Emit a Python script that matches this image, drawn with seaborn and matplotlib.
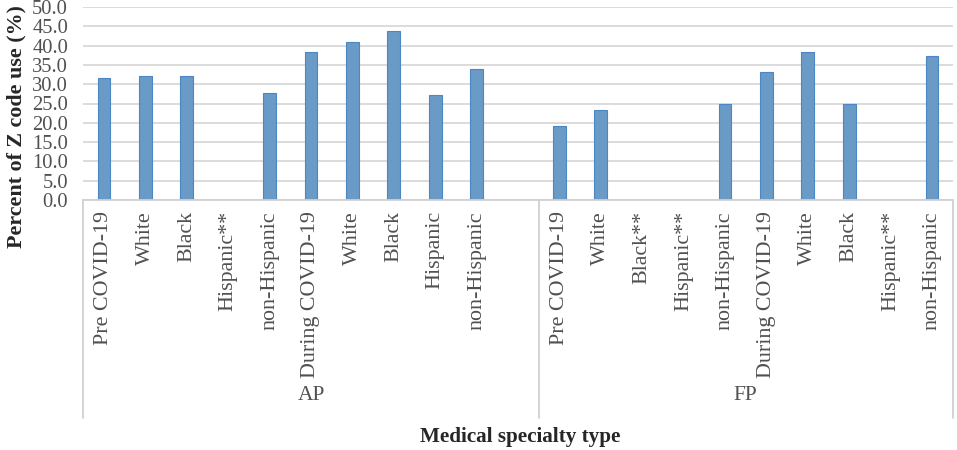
import matplotlib
matplotlib.use("Agg")
import matplotlib.pyplot as plt
import numpy as np
import pandas as pd
import seaborn as sns

# data
specialty = ["AP"] * 10 + ["FP"] * 10
subgroup = ["Pre COVID-19", "White", "Black", "Hispanic**", "non-Hispanic",
            "During COVID-19", "White", "Black", "Hispanic", "non-Hispanic",
            "Pre COVID-19", "White", "Black**", "Hispanic**", "non-Hispanic",
            "During COVID-19", "White", "Black", "Hispanic**", "non-Hispanic"]
pct = [31.6, 32.2, 32.0, np.nan, 27.7, 38.3, 41.0, 43.7, 27.3, 33.9,
       19.3, 23.2, np.nan, np.nan, 24.9, 33.2, 38.4, 24.9, np.nan, 37.4]
groups = ["AP", "FP"]

df = pd.DataFrame({"specialty": specialty, "subgroup": subgroup, "pct": pct})
df["key"] = [f"{s}_{i}" for i, s in enumerate(specialty)]

# one empty slot closes the AP group (as in the Excel original)
order = list(df["key"][:10]) + ["AP_gap"] + list(df["key"][10:])
tick_labels = subgroup[:10] + [""] + subgroup[10:]

sns.set_style("white")
plt.rcParams["font.family"] = ["Liberation Serif", "DejaVu Serif"]

fig = plt.figure(figsize=(9.57, 4.5), dpi=100)
ax = fig.add_axes([83.3 / 957, 1 - 200 / 450, (952.7 - 83.3) / 957, 193 / 450])

sns.barplot(data=df, x="key", y="pct", order=order, color="#5B9BD5",
            edgecolor="#4C86C4", linewidth=0.8, width=0.31, ax=ax)

ax.set_ylim(0, 50)
ax.set_xlim(-0.5, len(order) - 0.5)
ax.set_yticks(np.arange(0, 50.1, 5))
ax.set_yticklabels([f"{v:.1f}" for v in np.arange(0, 50.1, 5)])
ax.set_xticks(range(len(order)))
ax.set_xticklabels(tick_labels, rotation=90)
ax.tick_params(axis="x", length=0, pad=8, labelsize=15.8, colors="#505050")
ax.tick_params(axis="y", length=0, pad=11, labelsize=14.8, colors="#505050")
ax.grid(axis="y", color="#D9D9D9", linewidth=1.3)
ax.set_axisbelow(True)
for side in ["left", "right", "top"]:
    ax.spines[side].set_visible(False)
ax.spines["bottom"].set_color("#D0D0D0")
ax.spines["bottom"].set_linewidth(1.3)
ax.set_xlabel("")
ax.set_ylabel("")

# group separators and group labels under the tick labels
trans = ax.get_xaxis_transform()
for xb in [-0.5, 10.5, len(order) - 0.5]:
    ax.plot([xb, xb], [0, -218 / 193], transform=trans, color="#D0D0D0",
            linewidth=1.3, clip_on=False)
for g, (a, b) in zip(groups, [(-0.5, 10.5), (10.5, len(order) - 0.5)]):
    ax.text((a + b) / 2, -195 / 193, g, transform=trans, ha="center",
            va="center", fontsize=15.5, color="#505050")

fig.text(520 / 957, 1 - 437 / 450, "Medical specialty type", ha="center",
         va="center", fontsize=15.2, fontweight="bold")
fig.text(16 / 957, 1 - 127 / 450, "Percent of Z code use (%)", ha="center",
         va="center", rotation=90, fontsize=15.8, fontweight="bold")

fig.savefig("out.png", dpi=100)
